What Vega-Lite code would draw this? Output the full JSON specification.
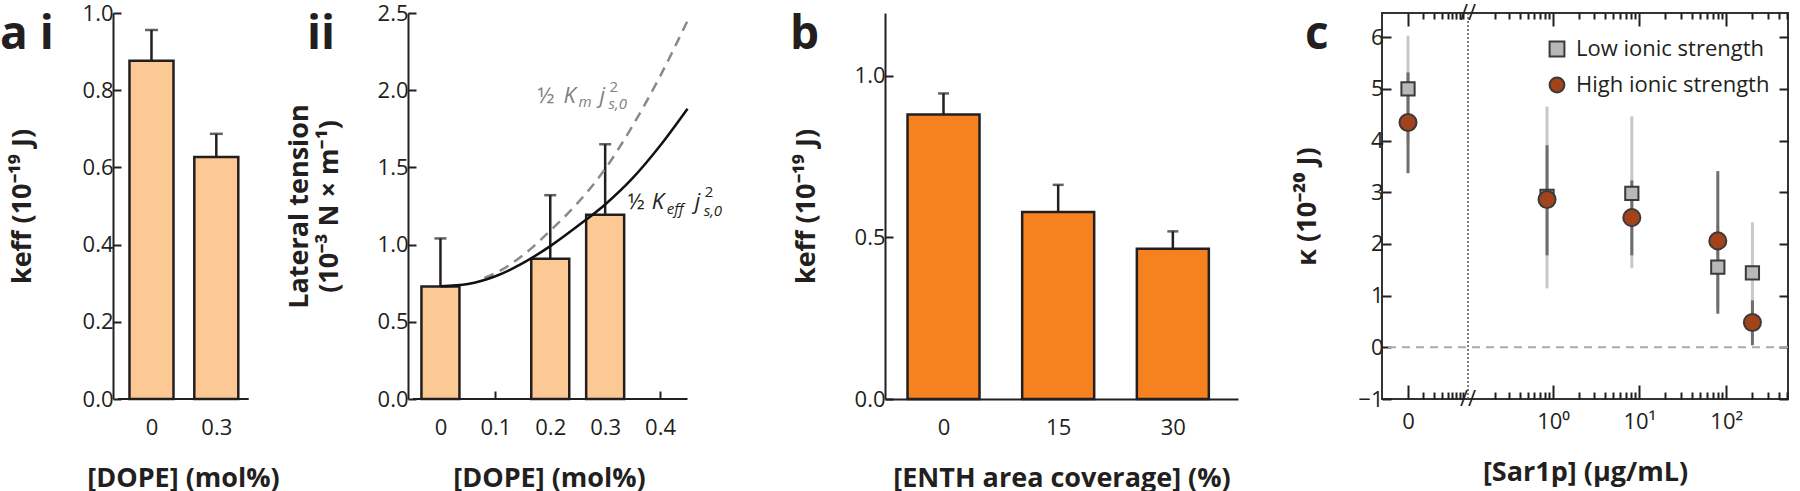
{
  "$schema": "https://vega.github.io/schema/vega-lite/v6.json",
  "background": "white",
  "padding": {"left": 0, "top": 1, "right": 0, "bottom": 0},
  "config": {
    "font": "Open Sans",
    "view": {"stroke": null},
    "axis": {
      "labelFont": "Open Sans", "labelFontSize": 22, "labelColor": "#231f20",
      "titleFont": "Open Sans", "titleFontSize": 27, "titleFontWeight": "bold", "titleColor": "#231f20",
      "domainColor": "#231f20", "domainWidth": 2, "tickColor": "#231f20", "tickWidth": 2, "tickSize": -8,
      "grid": false, "zindex": 1
    },
    "axisX": {"labelPadding": 26, "titlePadding": 27},
    "axisY": {"labelPadding": 8},
    "legend": {"labelFont": "Open Sans"}
  },
  "resolve": {"scale": {"fill": "independent", "shape": "independent", "stroke": "independent"}, "legend": {"fill": "independent", "shape": "independent", "stroke": "independent"}},
  "datasets": {
    "ai": [
      {"dope": 0, "keff": 0.876, "upper": 0.956},
      {"dope": 0.3, "keff": 0.627, "upper": 0.687}
    ],
    "aii": [
      {"dope": 0, "tension": 0.728, "upper": 1.04},
      {"dope": 0.2, "tension": 0.908, "upper": 1.32},
      {"dope": 0.3, "tension": 1.194, "upper": 1.65}
    ],
    "fit_eff": [
      {"dope": 0, "tension": 0.73}, {"dope": 0.05, "tension": 0.745}, {"dope": 0.1, "tension": 0.795},
      {"dope": 0.15, "tension": 0.88}, {"dope": 0.2, "tension": 0.99}, {"dope": 0.25, "tension": 1.12},
      {"dope": 0.3, "tension": 1.26}, {"dope": 0.35, "tension": 1.43}, {"dope": 0.4, "tension": 1.64},
      {"dope": 0.45, "tension": 1.88}
    ],
    "fit_m": [
      {"dope": 0.08, "tension": 0.785}, {"dope": 0.1, "tension": 0.815}, {"dope": 0.15, "tension": 0.93},
      {"dope": 0.2, "tension": 1.09}, {"dope": 0.25, "tension": 1.27}, {"dope": 0.3, "tension": 1.49},
      {"dope": 0.35, "tension": 1.77}, {"dope": 0.4, "tension": 2.09}, {"dope": 0.45, "tension": 2.45}
    ],
    "lab_m": [{"dope": 0.1767, "tension": 1.919, "half": "½", "coef": "K", "sub": "m", "var": "j", "sup": "2", "sub2": "s,0"}],
    "lab_eff": [{"dope": 0.341, "tension": 1.23, "half": "½", "coef": "K", "sub": "eff", "var": "j", "sup": "2", "sub2": "s,0"}],
    "b": [
      {"enth": 0, "keff": 0.881, "upper": 0.946},
      {"enth": 15, "keff": 0.579, "upper": 0.663},
      {"enth": 30, "keff": 0.465, "upper": 0.519}
    ],
    "c": [
      {"conc": 0, "kappa": 5.0, "lo": 3.97, "hi": 6.03, "strength": "Low ionic strength"},
      {"conc": 0.85, "kappa": 2.92, "lo": 1.14, "hi": 4.66, "strength": "Low ionic strength"},
      {"conc": 8.2, "kappa": 2.98, "lo": 1.53, "hi": 4.47, "strength": "Low ionic strength"},
      {"conc": 80, "kappa": 1.55, "lo": 0.75, "hi": 2.35, "strength": "Low ionic strength"},
      {"conc": 200, "kappa": 1.44, "lo": 0.46, "hi": 2.42, "strength": "Low ionic strength"},
      {"conc": 0, "kappa": 4.35, "lo": 3.37, "hi": 5.32, "strength": "High ionic strength"},
      {"conc": 0.85, "kappa": 2.86, "lo": 1.78, "hi": 3.91, "strength": "High ionic strength"},
      {"conc": 8.2, "kappa": 2.51, "lo": 1.78, "hi": 3.23, "strength": "High ionic strength"},
      {"conc": 80, "kappa": 2.06, "lo": 0.65, "hi": 3.41, "strength": "High ionic strength"},
      {"conc": 200, "kappa": 0.48, "lo": 0.04, "hi": 0.91, "strength": "High ionic strength"}
    ]
  },
  "bounds": "flush",
  "spacing": 144,
  "hconcat": [
    {
      "width": 151, "height": 386,
      "data": {"name": "ai"},
      "layer": [
        {
          "mark": {"type": "bar", "width": 44, "fill": "#fcc894", "stroke": "#231f20", "strokeWidth": 2.5},
          "encoding": {
            "x": {"field": "dope", "type": "quantitative", "scale": {"domain": [-0.155, 0.4976], "nice": false, "zero": false},
                  "axis": {"values": [0, 0.3], "domain": false, "labelExpr": "datum.value == 0 ? '0' : format(datum.value, '.1f')", "title": "[DOPE] (mol%)", "titleX": 70}},
            "y": {"field": "keff", "type": "quantitative", "scale": {"domain": [0, 1], "nice": false},
                  "axis": {"values": [0, 0.2, 0.4, 0.6, 0.8, 1], "format": ".1f", "title": "keff (10⁻¹⁹ J)", "titlePadding": 46}}
          }
        },
        {
          "mark": {"type": "rule", "color": "#231f20", "strokeWidth": 2.5},
          "encoding": {"x": {"field": "dope", "type": "quantitative"}, "y": {"field": "keff", "type": "quantitative"}, "y2": {"field": "upper"}}
        },
        {
          "mark": {"type": "tick", "orient": "horizontal", "size": 13, "thickness": 2.5, "color": "#231f20"},
          "encoding": {"x": {"field": "dope", "type": "quantitative"}, "y": {"field": "upper", "type": "quantitative"}}
        },
        {
          "data": {"values": [{}]},
          "mark": {"type": "rule", "color": "#231f20", "strokeWidth": 2},
          "encoding": {"x": {"datum": -0.155, "type": "quantitative"}, "x2": {"datum": 0.45}, "y": {"datum": 0, "type": "quantitative"}}
        },
        {
          "data": {"values": [{"panel": "a i"}]},
          "mark": {"type": "text", "align": "left", "baseline": "alphabetic", "fontSize": 46, "fontWeight": "bold", "color": "#231f20", "dx": -118, "dy": 36},
          "encoding": {"x": {"datum": -0.155, "type": "quantitative"}, "y": {"datum": 1, "type": "quantitative"}, "text": {"field": "panel"}}
        }
      ]
    },
    {
      "width": 333, "height": 386,
      "layer": [
        {
          "data": {"name": "aii"},
          "mark": {"type": "bar", "width": 38, "fill": "#fcc894", "stroke": "#231f20", "strokeWidth": 2.5},
          "encoding": {
            "x": {"field": "dope", "type": "quantitative", "scale": {"domain": [-0.05, 0.5383], "nice": false, "zero": false},
                  "axis": {"values": [0, 0.1, 0.2, 0.3, 0.4], "domain": false, "labelExpr": "datum.value == 0 ? '0' : format(datum.value, '.1f')", "title": "[DOPE] (mol%)", "titleX": 141}},
            "y": {"field": "tension", "type": "quantitative", "scale": {"domain": [0, 2.5], "nice": false},
                  "axis": {"values": [0, 0.5, 1, 1.5, 2, 2.5], "format": ".1f", "title": ["Lateral tension", "(10⁻³ N × m⁻¹)"], "titleLineHeight": 30, "titlePadding": 34}}
          }
        },
        {
          "data": {"name": "aii"},
          "mark": {"type": "rule", "color": "#231f20", "strokeWidth": 2.5},
          "encoding": {"x": {"field": "dope", "type": "quantitative"}, "y": {"field": "tension", "type": "quantitative"}, "y2": {"field": "upper"}}
        },
        {
          "data": {"name": "aii"},
          "mark": {"type": "tick", "orient": "horizontal", "size": 12, "thickness": 2.5, "color": "#231f20"},
          "encoding": {"x": {"field": "dope", "type": "quantitative"}, "y": {"field": "upper", "type": "quantitative"}}
        },
        {
          "data": {"name": "fit_m"},
          "mark": {"type": "line", "interpolate": "monotone", "color": "#8a8a8a", "strokeWidth": 2.5, "strokeDash": [10, 7]},
          "encoding": {"x": {"field": "dope", "type": "quantitative"}, "y": {"field": "tension", "type": "quantitative"}}
        },
        {
          "data": {"name": "fit_eff"},
          "mark": {"type": "line", "interpolate": "monotone", "color": "#111111", "strokeWidth": 2.5},
          "encoding": {"x": {"field": "dope", "type": "quantitative"}, "y": {"field": "tension", "type": "quantitative"}}
        },
        {
          "data": {"values": [{}]},
          "mark": {"type": "rule", "color": "#231f20", "strokeWidth": 2},
          "encoding": {"x": {"datum": -0.05, "type": "quantitative"}, "x2": {"datum": 0.45}, "y": {"datum": 0, "type": "quantitative"}}
        },
        {
          "data": {"values": [{"panel": "ii"}]},
          "mark": {"type": "text", "align": "left", "baseline": "alphabetic", "fontSize": 46, "fontWeight": "bold", "color": "#231f20", "dx": -106, "dy": 36},
          "encoding": {"x": {"datum": -0.05, "type": "quantitative"}, "y": {"datum": 2.5, "type": "quantitative"}, "text": {"field": "panel"}}
        },
        {
          "data": {"name": "lab_m"},
          "mark": {"type": "text", "align": "left", "baseline": "alphabetic", "fontSize": 22, "color": "#808080"},
          "encoding": {"x": {"field": "dope", "type": "quantitative"}, "y": {"field": "tension", "type": "quantitative"}, "text": {"field": "half"}}
        },
        {
          "data": {"name": "lab_m"},
          "mark": {"type": "text", "align": "left", "baseline": "alphabetic", "fontSize": 22, "fontStyle": "italic", "color": "#808080", "dx": 26},
          "encoding": {"x": {"field": "dope", "type": "quantitative"}, "y": {"field": "tension", "type": "quantitative"}, "text": {"field": "coef"}}
        },
        {
          "data": {"name": "lab_m"},
          "mark": {"type": "text", "align": "left", "baseline": "alphabetic", "fontSize": 15, "fontStyle": "italic", "color": "#808080", "dx": 41, "dy": 4},
          "encoding": {"x": {"field": "dope", "type": "quantitative"}, "y": {"field": "tension", "type": "quantitative"}, "text": {"field": "sub"}}
        },
        {
          "data": {"name": "lab_m"},
          "mark": {"type": "text", "align": "left", "baseline": "alphabetic", "fontSize": 22, "fontStyle": "italic", "color": "#808080", "dx": 62},
          "encoding": {"x": {"field": "dope", "type": "quantitative"}, "y": {"field": "tension", "type": "quantitative"}, "text": {"field": "var"}}
        },
        {
          "data": {"name": "lab_m"},
          "mark": {"type": "text", "align": "left", "baseline": "alphabetic", "fontSize": 15, "color": "#808080", "dx": 72, "dy": -11},
          "encoding": {"x": {"field": "dope", "type": "quantitative"}, "y": {"field": "tension", "type": "quantitative"}, "text": {"field": "sup"}}
        },
        {
          "data": {"name": "lab_m"},
          "mark": {"type": "text", "align": "left", "baseline": "alphabetic", "fontSize": 15, "fontStyle": "italic", "color": "#808080", "dx": 71, "dy": 6},
          "encoding": {"x": {"field": "dope", "type": "quantitative"}, "y": {"field": "tension", "type": "quantitative"}, "text": {"field": "sub2"}}
        },
        {
          "data": {"name": "lab_eff"},
          "mark": {"type": "text", "align": "left", "baseline": "alphabetic", "fontSize": 22, "color": "#231f20"},
          "encoding": {"x": {"field": "dope", "type": "quantitative"}, "y": {"field": "tension", "type": "quantitative"}, "text": {"field": "half"}}
        },
        {
          "data": {"name": "lab_eff"},
          "mark": {"type": "text", "align": "left", "baseline": "alphabetic", "fontSize": 22, "fontStyle": "italic", "color": "#231f20", "dx": 24},
          "encoding": {"x": {"field": "dope", "type": "quantitative"}, "y": {"field": "tension", "type": "quantitative"}, "text": {"field": "coef"}}
        },
        {
          "data": {"name": "lab_eff"},
          "mark": {"type": "text", "align": "left", "baseline": "alphabetic", "fontSize": 15, "fontStyle": "italic", "color": "#231f20", "dx": 39, "dy": 5},
          "encoding": {"x": {"field": "dope", "type": "quantitative"}, "y": {"field": "tension", "type": "quantitative"}, "text": {"field": "sub"}}
        },
        {
          "data": {"name": "lab_eff"},
          "mark": {"type": "text", "align": "left", "baseline": "alphabetic", "fontSize": 22, "fontStyle": "italic", "color": "#231f20", "dx": 67},
          "encoding": {"x": {"field": "dope", "type": "quantitative"}, "y": {"field": "tension", "type": "quantitative"}, "text": {"field": "var"}}
        },
        {
          "data": {"name": "lab_eff"},
          "mark": {"type": "text", "align": "left", "baseline": "alphabetic", "fontSize": 15, "color": "#231f20", "dx": 77, "dy": -12},
          "encoding": {"x": {"field": "dope", "type": "quantitative"}, "y": {"field": "tension", "type": "quantitative"}, "text": {"field": "sup"}}
        },
        {
          "data": {"name": "lab_eff"},
          "mark": {"type": "text", "align": "left", "baseline": "alphabetic", "fontSize": 15, "fontStyle": "italic", "color": "#231f20", "dx": 76, "dy": 7},
          "encoding": {"x": {"field": "dope", "type": "quantitative"}, "y": {"field": "tension", "type": "quantitative"}, "text": {"field": "sub2"}}
        }
      ]
    },
    {
      "width": 353, "height": 386,
      "data": {"name": "b"},
      "layer": [
        {
          "mark": {"type": "bar", "width": 72, "fill": "#f5821f", "stroke": "#231f20", "strokeWidth": 2.5},
          "encoding": {
            "x": {"field": "enth", "type": "quantitative", "scale": {"domain": [-7, 37.87], "nice": false, "zero": false},
                  "axis": {"values": [0, 15, 30], "title": "[ENTH area coverage] (%)"}},
            "y": {"field": "keff", "type": "quantitative", "scale": {"domain": [0, 1.195], "nice": false},
                  "axis": {"values": [0, 0.5, 1], "format": ".1f", "title": "keff (10⁻¹⁹ J)", "titlePadding": 34}}
          }
        },
        {
          "mark": {"type": "rule", "color": "#231f20", "strokeWidth": 2.5},
          "encoding": {"x": {"field": "enth", "type": "quantitative"}, "y": {"field": "keff", "type": "quantitative"}, "y2": {"field": "upper"}}
        },
        {
          "mark": {"type": "tick", "orient": "horizontal", "size": 11, "thickness": 2.5, "color": "#231f20"},
          "encoding": {"x": {"field": "enth", "type": "quantitative"}, "y": {"field": "upper", "type": "quantitative"}}
        },
        {
          "data": {"values": [{"panel": "b"}]},
          "mark": {"type": "text", "align": "left", "baseline": "alphabetic", "fontSize": 46, "fontWeight": "bold", "color": "#231f20", "dx": -100, "dy": 36},
          "encoding": {"x": {"datum": -7, "type": "quantitative"}, "y": {"datum": 1.195, "type": "quantitative"}, "text": {"field": "panel"}}
        }
      ]
    },
    {
      "width": 406, "height": 386,
      "view": {"stroke": "#333333", "strokeWidth": 2},
      "resolve": {"axis": {"x": "independent", "y": "independent"}},
      "layer": [
        {
          "data": {"values": [{}]},
          "mark": {"type": "rule", "color": "#aaaaaa", "strokeWidth": 2, "strokeDash": [8, 6]},
          "encoding": {
            "y": {"datum": 0, "type": "quantitative", "scale": {"domain": [-1, 6.47], "nice": false, "zero": false},
                  "axis": {"orient": "left", "values": [-1, 0, 1, 2, 3, 4, 5, 6], "tickSize": -9, "domain": false, "title": "κ (10⁻²⁰ J)", "titlePadding": 36}}
          }
        },
        {
          "data": {"values": [{}]},
          "mark": {"type": "rule", "color": "#555555", "strokeWidth": 1.5, "strokeDash": [2, 2]},
          "encoding": {
            "x": {"datum": 0.0857, "type": "quantitative", "scale": {"type": "symlog", "constant": 0.022, "domain": [-0.0218, 512.9], "nice": false, "zero": false},
                  "axis": {"orient": "bottom", "values": [0, 1, 10, 100], "labelExpr": "datum.value == 0 ? '0' : datum.value == 1 ? '10⁰' : datum.value == 10 ? '10¹' : '10²'", "tickSize": -14, "domain": false, "title": "[Sar1p] (µg/mL)"}}
          }
        },
        {
          "data": {"name": "c"},
          "transform": [{"filter": "datum.strength == 'Low ionic strength'"}],
          "mark": {"type": "rule", "strokeWidth": 3, "color": "#c8c8c8"},
          "encoding": {
            "x": {"field": "conc", "type": "quantitative", "scale": {"type": "symlog", "constant": 0.022, "domain": [-0.0218, 512.9], "nice": false, "zero": false},
                  "axis": {"orient": "bottom", "values": [0.0105, 0.0218, 0.0317, 0.0409, 0.049, 0.0563, 0.0645, 0.0715, 0.2, 0.3, 0.4, 0.5, 0.6, 0.7, 0.8, 0.9, 2, 3, 4, 5, 6, 7, 8, 9, 20, 30, 40, 50, 60, 70, 80, 90, 200, 300, 400, 500], "labels": false, "tickSize": -7, "domain": false, "title": null}},
            "y": {"field": "lo", "type": "quantitative", "scale": {"domain": [-1, 6.47], "nice": false, "zero": false},
                  "axis": {"orient": "right", "values": [-1, 0, 1, 2, 3, 4, 5, 6], "labels": false, "tickSize": -9, "domain": false, "title": null}},
            "y2": {"field": "hi"}
          }
        },
        {
          "data": {"name": "c"},
          "transform": [{"filter": "datum.strength == 'High ionic strength'"}],
          "mark": {"type": "rule", "strokeWidth": 3, "color": "#6e6e6e"},
          "encoding": {
            "x": {"field": "conc", "type": "quantitative", "scale": {"type": "symlog", "constant": 0.022, "domain": [-0.0218, 512.9], "nice": false, "zero": false},
                  "axis": {"orient": "top", "values": [0.0105, 0.0218, 0.0317, 0.0409, 0.049, 0.0563, 0.0645, 0.0715, 0.2, 0.3, 0.4, 0.5, 0.6, 0.7, 0.8, 0.9, 2, 3, 4, 5, 6, 7, 8, 9, 20, 30, 40, 50, 60, 70, 80, 90, 200, 300, 400, 500], "labels": false, "tickSize": -6, "domain": false, "title": null}},
            "y": {"field": "lo", "type": "quantitative", "scale": {"domain": [-1, 6.47], "nice": false, "zero": false}, "axis": null},
            "y2": {"field": "hi"}
          }
        },
        {
          "data": {"name": "c"},
          "transform": [{"filter": "datum.strength == 'Low ionic strength'"}],
          "mark": {"type": "point", "filled": true, "opacity": 1, "size": 175, "strokeWidth": 2},
          "encoding": {
            "x": {"field": "conc", "type": "quantitative", "scale": {"type": "symlog", "constant": 0.022, "domain": [-0.0218, 512.9], "nice": false, "zero": false},
                  "axis": {"orient": "top", "values": [0, 1, 10, 100], "labels": false, "tickSize": -13, "domain": false, "title": null}},
            "y": {"field": "kappa", "type": "quantitative", "scale": {"domain": [-1, 6.47], "nice": false, "zero": false}, "axis": null},
            "fill": {"field": "strength", "type": "nominal", "scale": {"domain": ["Low ionic strength", "High ionic strength"], "range": ["#b8b8b8", "#a3431c"]},
                     "legend": {"orient": "none", "legendX": 164, "legendY": 25, "title": null, "labelFontSize": 22, "labelColor": "#231f20", "labelLimit": 400, "symbolSize": 220, "symbolStrokeWidth": 2, "symbolStrokeColor": "#3a3a3a", "rowPadding": 12, "labelOffset": 8, "padding": 0}},
            "shape": {"field": "strength", "type": "nominal", "scale": {"domain": ["Low ionic strength", "High ionic strength"], "range": ["square", "circle"]},
                      "legend": {"orient": "none", "legendX": 164, "legendY": 25, "title": null, "labelFontSize": 22, "labelColor": "#231f20", "labelLimit": 400, "symbolSize": 220, "symbolStrokeWidth": 2, "symbolStrokeColor": "#3a3a3a", "rowPadding": 12, "labelOffset": 8, "padding": 0}},
            "stroke": {"field": "strength", "type": "nominal", "scale": {"domain": ["Low ionic strength", "High ionic strength"], "range": ["#3a3a3a", "#3a3a3a"]},
                       "legend": {"orient": "none", "legendX": 164, "legendY": 25, "title": null, "labelFontSize": 22, "labelColor": "#231f20", "labelLimit": 400, "symbolSize": 220, "symbolStrokeWidth": 2, "symbolStrokeColor": "#3a3a3a", "rowPadding": 12, "labelOffset": 8, "padding": 0}}
          }
        },
        {
          "data": {"name": "c"},
          "transform": [{"filter": "datum.strength == 'High ionic strength'"}],
          "mark": {"type": "point", "filled": true, "opacity": 1, "size": 290, "strokeWidth": 2},
          "encoding": {
            "x": {"field": "conc", "type": "quantitative", "scale": {"type": "symlog", "constant": 0.022, "domain": [-0.0218, 512.9], "nice": false, "zero": false}, "axis": null},
            "y": {"field": "kappa", "type": "quantitative", "scale": {"domain": [-1, 6.47], "nice": false, "zero": false}, "axis": null},
            "fill": {"field": "strength", "type": "nominal", "scale": {"domain": ["Low ionic strength", "High ionic strength"], "range": ["#b8b8b8", "#a3431c"]},
                     "legend": {"orient": "none", "legendX": 164, "legendY": 25, "title": null, "labelFontSize": 22, "labelColor": "#231f20", "labelLimit": 400, "symbolSize": 220, "symbolStrokeWidth": 2, "symbolStrokeColor": "#3a3a3a", "rowPadding": 12, "labelOffset": 8, "padding": 0}},
            "shape": {"field": "strength", "type": "nominal", "scale": {"domain": ["Low ionic strength", "High ionic strength"], "range": ["square", "circle"]},
                      "legend": {"orient": "none", "legendX": 164, "legendY": 25, "title": null, "labelFontSize": 22, "labelColor": "#231f20", "labelLimit": 400, "symbolSize": 220, "symbolStrokeWidth": 2, "symbolStrokeColor": "#3a3a3a", "rowPadding": 12, "labelOffset": 8, "padding": 0}},
            "stroke": {"field": "strength", "type": "nominal", "scale": {"domain": ["Low ionic strength", "High ionic strength"], "range": ["#3a3a3a", "#3a3a3a"]},
                       "legend": {"orient": "none", "legendX": 164, "legendY": 25, "title": null, "labelFontSize": 22, "labelColor": "#231f20", "labelLimit": 400, "symbolSize": 220, "symbolStrokeWidth": 2, "symbolStrokeColor": "#3a3a3a", "rowPadding": 12, "labelOffset": 8, "padding": 0}}
          }
        },
        {
          "data": {"values": [{"brk": "//"}]},
          "mark": {"type": "text", "fontSize": 22, "color": "#231f20", "align": "center", "baseline": "middle"},
          "encoding": {
            "x": {"datum": 0.0857, "type": "quantitative", "scale": {"type": "symlog", "constant": 0.022, "domain": [-0.0218, 512.9], "nice": false, "zero": false}, "axis": null},
            "y": {"datum": 6.47, "type": "quantitative", "scale": {"domain": [-1, 6.47], "nice": false, "zero": false}, "axis": null},
            "text": {"field": "brk"}
          }
        },
        {
          "data": {"values": [{"brk": "//"}]},
          "mark": {"type": "text", "fontSize": 22, "color": "#231f20", "align": "center", "baseline": "middle"},
          "encoding": {
            "x": {"datum": 0.0857, "type": "quantitative", "scale": {"type": "symlog", "constant": 0.022, "domain": [-0.0218, 512.9], "nice": false, "zero": false}, "axis": null},
            "y": {"datum": -1, "type": "quantitative", "scale": {"domain": [-1, 6.47], "nice": false, "zero": false}, "axis": null},
            "text": {"field": "brk"}
          }
        },
        {
          "data": {"values": [{"panel": "c"}]},
          "mark": {"type": "text", "align": "left", "baseline": "alphabetic", "fontSize": 46, "fontWeight": "bold", "color": "#231f20", "dx": -77, "dy": 36},
          "encoding": {
            "x": {"datum": -0.0218, "type": "quantitative", "scale": {"type": "symlog", "constant": 0.022, "domain": [-0.0218, 512.9], "nice": false, "zero": false}, "axis": null},
            "y": {"datum": 6.47, "type": "quantitative", "scale": {"domain": [-1, 6.47], "nice": false, "zero": false}, "axis": null},
            "text": {"field": "panel"}
          }
        }
      ]
    }
  ]
}
